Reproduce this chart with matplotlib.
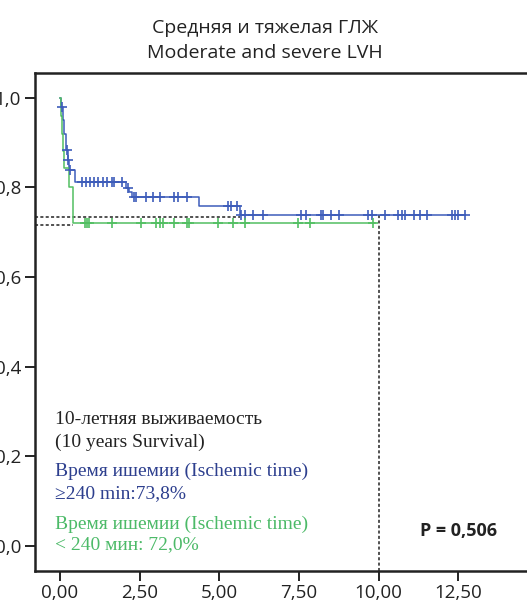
import numpy as np
import matplotlib
matplotlib.use("Agg")
import matplotlib.pyplot as plt

# Kaplan-Meier steps (time in years, cumulative survival)
blue_times = [0.0, 0.04, 0.09, 0.14, 0.18, 0.24, 0.29, 0.47, 2.07, 2.17, 2.26, 4.36, 5.65]
blue_surv = [1.0, 0.979, 0.95, 0.92, 0.883, 0.861, 0.838, 0.812, 0.798, 0.790, 0.779, 0.759, 0.738]
blue_end = 12.72
blue_censored = [0.06, 0.21, 0.26, 0.31,
                 0.68, 0.82, 0.94, 1.07, 1.18, 1.35, 1.47, 1.63, 1.71, 1.94, 2.12,
                 2.33, 2.38, 2.69, 2.91, 3.14, 3.58, 3.72, 3.98,
                 5.26, 5.36, 5.55,
                 5.67, 5.81, 6.07, 6.36, 7.56, 7.73, 8.2, 8.26, 8.52, 8.77, 9.66, 9.8,
                 10.2, 10.6, 10.75, 10.84, 11.1, 11.3, 11.52, 12.3, 12.4, 12.5, 12.7]

green_times = [0.0, 0.02, 0.05, 0.08, 0.11, 0.29, 0.40]
green_surv = [1.0, 0.96, 0.92, 0.88, 0.842, 0.80, 0.72]
green_end = 9.9
green_censored = [0.79, 0.86, 0.92, 1.62, 2.53, 3.0, 3.15, 3.22, 3.58, 3.98, 4.06,
                  4.97, 5.44, 5.81, 7.48, 7.85, 9.84]

surv_blue_10y = 0.738
surv_green_10y = 0.720
p_value = "0,506"

xticks = [0, 2.5, 5, 7.5, 10, 12.5]
yticks = [0.0, 0.2, 0.4, 0.6, 0.8, 1.0]

line_blue = "#3d5cba"
line_green = "#52bf62"
text_blue = "#2d3f8e"
text_green = "#4cba68"


def step_value(times, surv, t):
    i = np.searchsorted(times, t, side="right") - 1
    return np.asarray(surv)[i]


fig = plt.figure(figsize=(5.27, 6.01), dpi=100)
ax = fig.add_axes([35 / 527, 30 / 601, 0.954, 498 / 601])

for times, surv, end, cens, col in [
    (blue_times, blue_surv, blue_end, blue_censored, line_blue),
    (green_times, green_surv, green_end, green_censored, line_green),
]:
    xs = list(times) + [end]
    ys = list(surv) + [surv[-1]]
    ax.step(xs, ys, where="post", color=col, lw=1.1, zorder=3)
    cy = [step_value(times, surv, t) for t in cens]
    ax.plot(cens, cy, ls="none", marker="+", ms=6.5, mew=1.2, color=col, zorder=4)

ax.set_xlim(-0.785, 15)
ax.set_ylim(-0.056, 1.055)

# reference lines for the 10-year estimate
x0 = ax.get_xlim()[0]
ax.plot([x0, blue_times[-1]], [surv_blue_10y - 0.004] * 2, ls=(0, (2, 1.5)), color="#222222", lw=1.1, zorder=2)
ax.plot([x0, green_times[-1]], [surv_green_10y - 0.003] * 2, ls=(0, (2, 1.5)), color="#222222", lw=1.1, zorder=2)
ax.plot([10, 10], [ax.get_ylim()[0], surv_blue_10y], ls=(0, (2, 1.5)), color="#222222", lw=1.1, zorder=2)

ax.set_xticks(xticks)
ax.set_xticklabels([f"{v:.2f}".replace(".", ",") for v in xticks])
ax.set_yticks(yticks)
ax.set_yticklabels([f"{v:.1f}".replace(".", ",") for v in yticks])
ax.tick_params(length=7, width=1.4, color="#222222", labelsize=13.5, pad=3)
ax.tick_params(axis="x", pad=2)
for lab in ax.get_xticklabels() + ax.get_yticklabels():
    lab.set_family("Open Sans")
    lab.set_color("#222222")
for s in ax.spines.values():
    s.set_linewidth(1.8)
    s.set_color("#222222")

serif = "Liberation Serif"
fs = 14
tx = -0.16
ax.text(tx, 0.283, "10-летняя выживаемость", family=serif, fontsize=fs, color="#222222", va="center")
ax.text(tx, 0.231, "(10 years Survival)", family=serif, fontsize=fs, color="#222222", va="center")
ax.text(tx, 0.167, "Время ишемии (Ischemic time)", family=serif, fontsize=fs, color=text_blue, va="center")
ax.text(tx, 0.117, "≥240 min:73,8%", family=serif, fontsize=fs, color=text_blue, va="center")
ax.text(tx, 0.049, "Время ишемии (Ischemic time)", family=serif, fontsize=fs, color=text_green, va="center")
ax.text(tx, 0.004, "< 240 мин: 72,0%", family=serif, fontsize=fs, color=text_green, va="center")
ax.text(13.72, 0.033, f"P = {p_value}", family="Open Sans", fontweight="bold", fontsize=13,
        color="#222222", ha="right", va="center")

fig.text(265 / 527, 1 - 28 / 601, "Средняя и тяжелая ГЛЖ", family="Open Sans", fontsize=14,
         color="#222222", ha="center", va="center")
fig.text(265 / 527, 1 - 53 / 601, "Moderate and severe LVH", family="Open Sans", fontsize=14,
         color="#222222", ha="center", va="center")

fig.savefig("out.png", dpi=100)
